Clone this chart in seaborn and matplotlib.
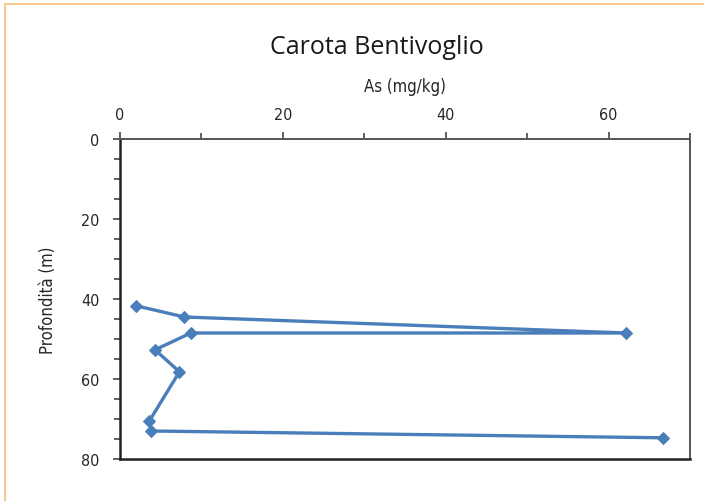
import matplotlib
matplotlib.use("Agg")
import matplotlib.pyplot as plt
import seaborn as sns
import pandas as pd
from matplotlib.ticker import MultipleLocator
from matplotlib.lines import Line2D

as_mgkg = [2.0, 7.9, 62.2, 8.7, 4.3, 7.3, 3.6, 3.8, 66.7]
depth_m = [41.7, 44.5, 48.5, 48.5, 52.7, 58.2, 70.5, 73.0, 74.7]
x_ticks = [0, 20, 40, 60]
y_ticks = [0, 20, 40, 60, 80]

df = pd.DataFrame({"As": as_mgkg, "Depth": depth_m})

sns.set_theme(style="white")
plt.rcParams['font.family'] = ['DejaVu Sans']

fig = plt.figure(figsize=(7.04, 5.02), dpi=100)
ax = fig.add_axes([120/704, 1-460/502, 570/704, 320/502])

sns.lineplot(data=df, x="As", y="Depth", sort=False, estimator=None,
             marker="D", markersize=6, color="#4a7ebb", linewidth=2.4,
             markeredgecolor="#4a7ebb", ax=ax)

ax.set_xlim(0, 70)
ax.set_ylim(80, 0)
ax.xaxis.tick_top()
ax.xaxis.set_label_position("top")
ax.set_xticks(x_ticks)
ax.set_yticks(y_ticks)
ax.xaxis.set_minor_locator(MultipleLocator(10))
ax.yaxis.set_minor_locator(MultipleLocator(5))

tick_font = dict(family="DejaVu Sans", stretch="condensed", size=11.5)
ax.set_xticklabels([str(t) for t in x_ticks], **tick_font)
ax.set_yticklabels([str(t) for t in y_ticks], **tick_font)
ax.tick_params(axis="both", which="both", direction="out", color="#444444",
               width=1.2, top=True, bottom=False, left=True, right=False)
ax.tick_params(axis="both", which="major", length=5)
ax.tick_params(axis="both", which="minor", length=4)
ax.tick_params(axis="y", which="major", pad=10)
ax.tick_params(axis="x", which="major", pad=7)

ax.set_xlabel("As (mg/kg)", family="DejaVu Sans", stretch="condensed",
              size=12, labelpad=12)
ax.set_ylabel("Profondità (m)", family="DejaVu Sans", stretch="condensed",
              size=12, labelpad=17)

for s in ["left", "bottom"]:
    ax.spines[s].set_color("#222222")
    ax.spines[s].set_linewidth(1.8)
for s in ["top", "right"]:
    ax.spines[s].set_color("#555555")
    ax.spines[s].set_linewidth(1.4)

fig.text(377/704, 1-47/502, "Carota Bentivoglio", ha="center", va="center",
         family="Open Sans", size=18, color="#1a1a1a")

# orange frame lines (top and left)
fig.add_artist(Line2D([5/704, 1], [1-5/502, 1-5/502], transform=fig.transFigure,
                      color="#f5c07a", linewidth=1.2))
fig.add_artist(Line2D([5/704, 5/704], [0, 1-5/502], transform=fig.transFigure,
                      color="#f5c07a", linewidth=1.2))

fig.savefig("out.png", dpi=100)
